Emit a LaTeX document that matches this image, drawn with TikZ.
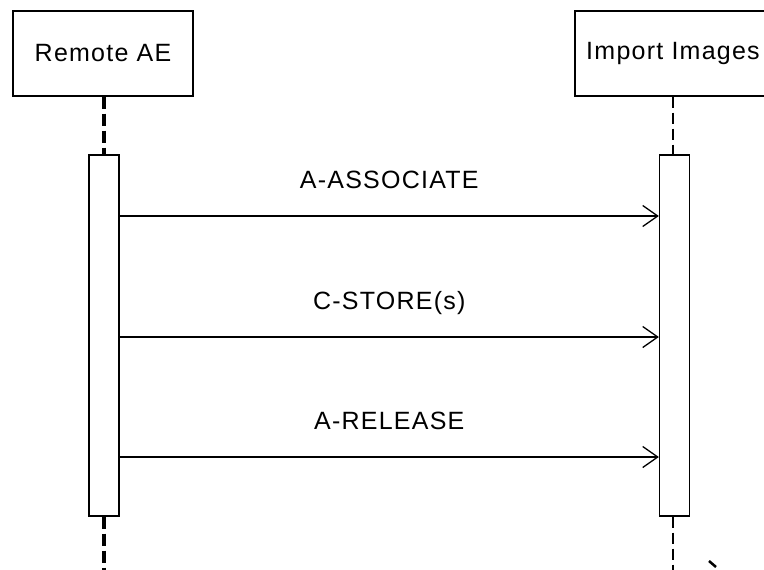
\documentclass[tikz,border=0pt]{standalone}
\usepackage{fontspec}
\setmainfont{Liberation Sans}[LetterSpace=5]
\usetikzlibrary{arrows.meta}
\begin{document}
\begin{tikzpicture}[x=1pt,y=-1pt,
	actor/.style={draw, line width=1.3pt, minimum height=85pt, inner sep=0pt, font=\fontsize{25}{29}\selectfont},
	bar/.style={draw, line width=1.3pt, fill=white, minimum width=30pt, minimum height=361pt, inner sep=0pt},
	msg/.style={line width=1.3pt, -{Straight Barb[length=15pt,width=21pt]}},
	msglabel/.style={midway, anchor=base, yshift=28pt, font=\fontsize{25}{29}\selectfont},
	thicklife/.style={line width=3.5pt, dash pattern=on 12pt off 5pt},
	thinlife/.style={line width=1.8pt, dash pattern=on 11pt off 5pt}]
			\useasboundingbox (0,0) rectangle (764,570);
			\clip (0,0) rectangle (764,570);
			\node[actor, minimum width=180pt] (remote) at (103,53.5) {Remote AE};
			\node[actor, minimum width=196pt] (import) at (673,53.5) {Import Images};
			\node[bar] (remotebar) at (104,335.5) {};
			\node[bar] (importbar) at (674.5,335.5) {};
			\coordinate (remoteend) at (104,570);
			\coordinate (importend) at (673,570);
			\draw[thicklife] (remotebar.north |- remote.south) -- (remotebar.north);
			\draw[thicklife] (remotebar.south) -- (remoteend);
			\draw[thinlife] (import.south) -- (import.south |- importbar.north);
			\draw[thinlife] (import.south |- importbar.south) -- (importend);
			\coordinate (assoc) at (0,216);
			\coordinate (store) at (0,337);
			\coordinate (release) at (0,457);
			\draw[msg] (remotebar.east |- assoc) -- (importbar.west |- assoc) node[msglabel] {A-ASSOCIATE};
			\draw[msg] (remotebar.east |- store) -- (importbar.west |- store) node[msglabel] {C-STORE(s)};
			\draw[msg] (remotebar.east |- release) -- (importbar.west |- release) node[msglabel] {A-RELEASE};
			\draw[line width=2.5pt] (709,561) -- (716,567);
		\end{tikzpicture}
\end{document}
